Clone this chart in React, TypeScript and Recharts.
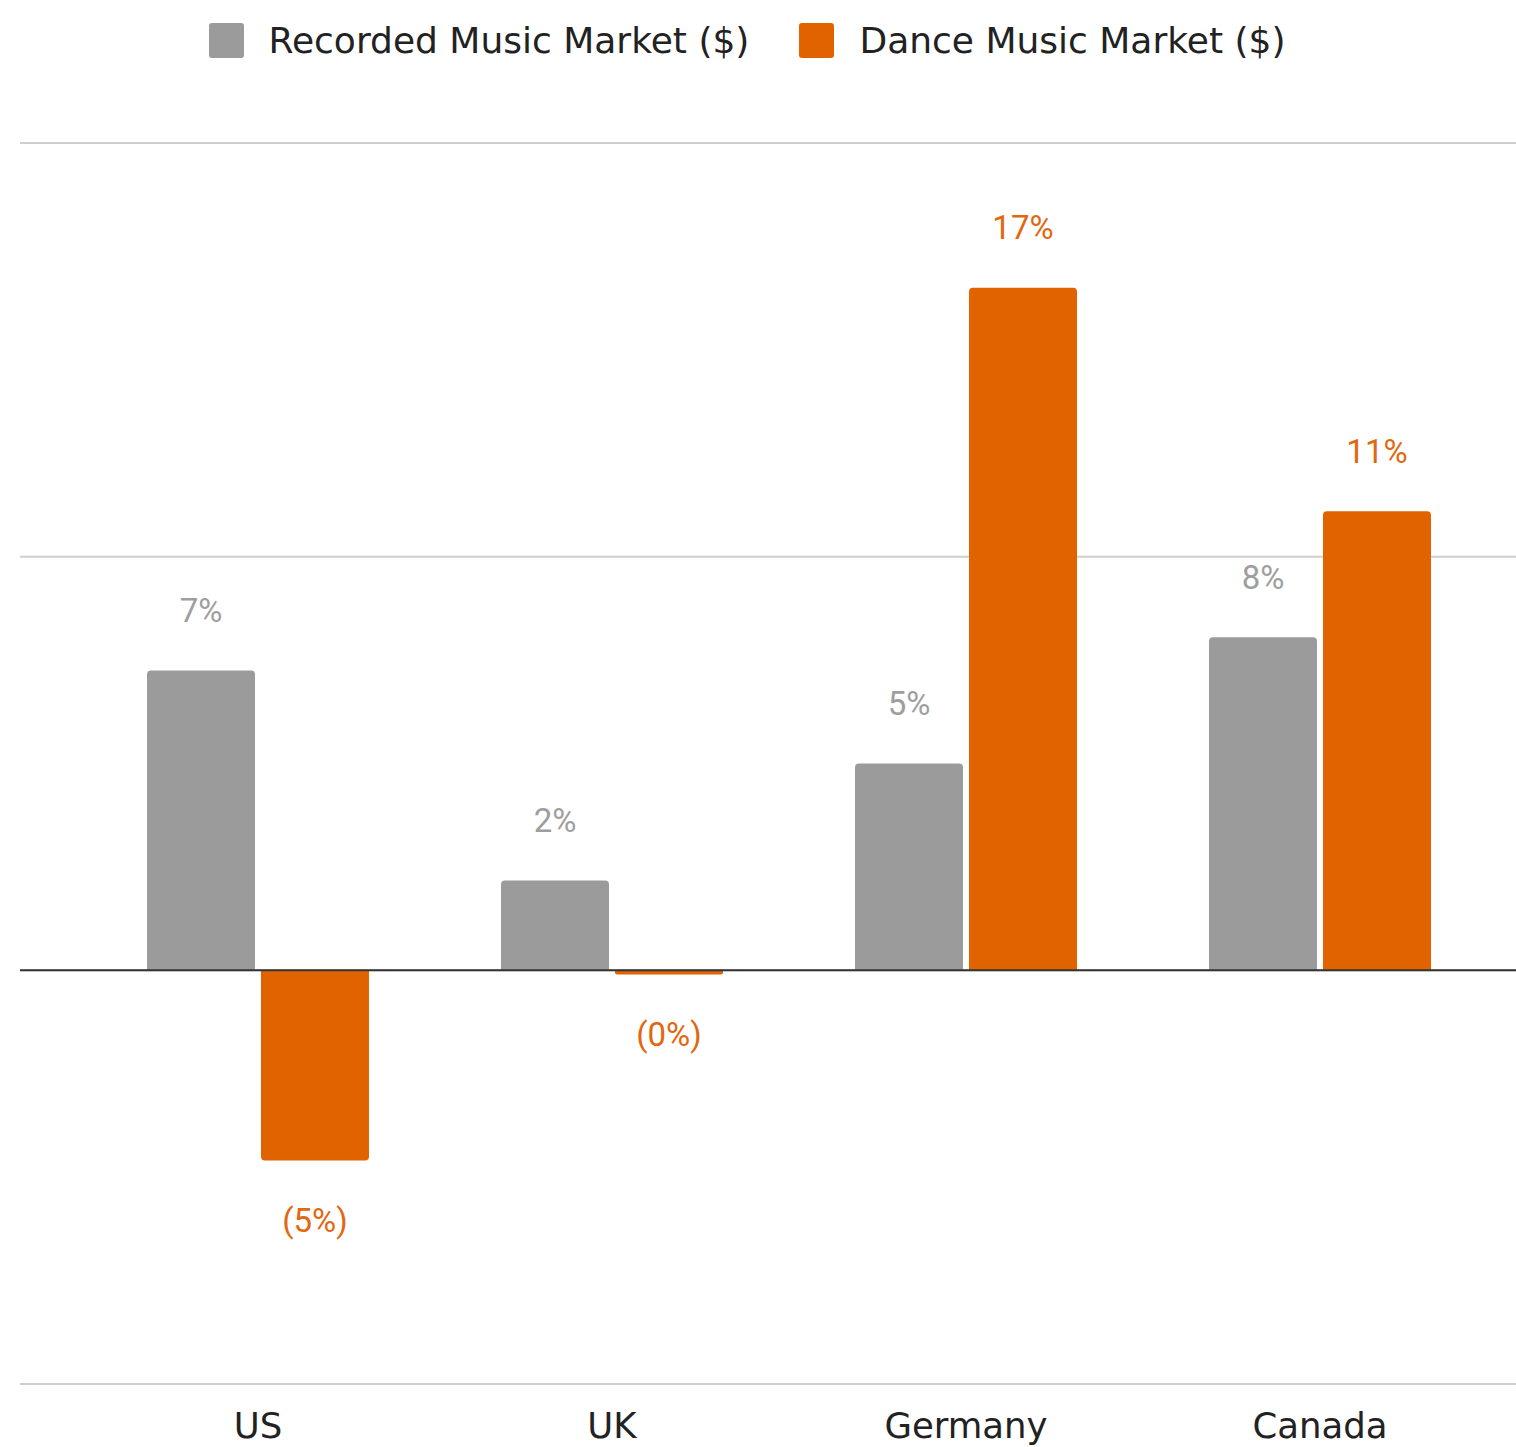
import React from "react";
import {
  BarChart,
  Bar,
  XAxis,
  YAxis,
  CartesianGrid,
  ReferenceLine,
  Legend,
  LabelList,
} from "recharts";

const countries = ["US", "UK", "Germany", "Canada"];
const recordedGrowth = [7.25, 2.17, 5.0, 8.05];
const danceGrowth = [-4.6, -0.1, 16.5, 11.1];
const yTicks = [-10, 0, 10, 20];

const GRAY = "#9b9b9b";
const ORANGE = "#e06300";

const data = countries.map((country, i) => ({
  country,
  recorded: recordedGrowth[i],
  dance: danceGrowth[i],
}));

const series = [
  { key: "recorded", name: "Recorded Music Market ($)", color: GRAY, label: "#9e9e9e" },
  { key: "dance", name: "Dance Music Market ($)", color: ORANGE, label: "#e2670f" },
];

function formatPct(v: number) {
  const r = Math.round(Math.abs(v));
  return v < 0 ? `(${r}%)` : `${r}%`;
}

function makeLabel(color: string) {
  return (props: any) => {
    const { x, y, width, height, value } = props;
    const top = Math.min(y, y + height);
    const bottom = Math.max(y, y + height);
    const cy = value >= 0 ? top - 60 : bottom + 60;
    return (
      <text
        x={x + width / 2}
        y={cy}
        textAnchor="middle"
        dominantBaseline="central"
        fill={color}
        fontFamily="Roboto"
        fontSize={33}
      >
        {formatPct(value)}
      </text>
    );
  };
}

function LegendContent() {
  return (
    <div
      style={{
        height: 80,
        display: "flex",
        justifyContent: "center",
        alignItems: "center",
        gap: 50,
        fontFamily: "DejaVu Sans",
        fontSize: 36,
        color: "#222",
        paddingRight: 22,
        boxSizing: "border-box",
      }}
    >
      {series.map((s) => (
        <div key={s.key} style={{ display: "flex", alignItems: "center" }}>
          <span
            style={{
              width: 35,
              height: 35,
              background: s.color,
              borderRadius: 3,
              marginRight: 25,
              display: "inline-block",
            }}
          />
          <span>{s.name}</span>
        </div>
      ))}
    </div>
  );
}

function CountryTick(props: any) {
  const { x, y, payload } = props;
  return (
    <text
      x={x}
      y={y}
      dy={46}
      textAnchor="middle"
      fill="#222"
      fontFamily="DejaVu Sans"
      fontSize={35.5}
    >
      {payload.value}
    </text>
  );
}

export default function App() {
  return (
    <div style={{ position: "absolute", left: 0, top: 0, background: "#fff" }}>
      <BarChart
        width={1516}
        height={1447}
        data={data}
        margin={{ top: 63, right: 0, bottom: 0, left: 20 }}
        barCategoryGap={66}
        barGap={6}
      >
        <CartesianGrid vertical={false} stroke="#cfcfcf" strokeWidth={2} />
        <XAxis
          dataKey="country"
          axisLine={false}
          tickLine={false}
          height={63}
          padding={{ left: 61, right: 19 }}
          tick={<CountryTick />}
        />
        <YAxis hide domain={[-10, 20]} ticks={yTicks} />
        <Legend
          verticalAlign="top"
          wrapperStyle={{ top: 0, left: 0, width: 1516 }}
          content={<LegendContent />}
        />
        <ReferenceLine y={0} stroke="#333" strokeWidth={2} />
        {series.map((s) => (
          <Bar
            key={s.key}
            dataKey={s.key}
            name={s.name}
            fill={s.color}
            radius={[4, 4, 0, 0]}
            isAnimationActive={false}
          >
            <LabelList dataKey={s.key} content={makeLabel(s.label)} />
          </Bar>
        ))}
      </BarChart>
    </div>
  );
}
